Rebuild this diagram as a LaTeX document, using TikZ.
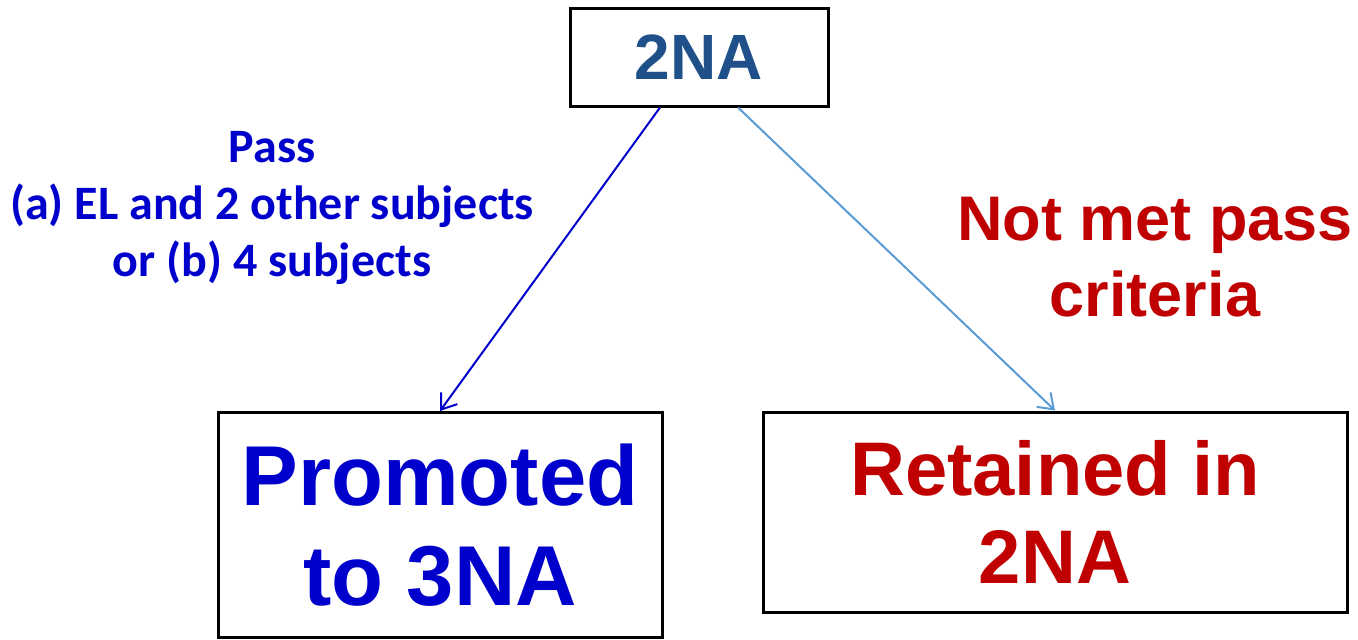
\documentclass[tikz,border=0pt]{standalone}
\usepackage{fontspec}
\setmainfont{Liberation Sans}
\newfontfamily\calibriFont{Carlito}
\usetikzlibrary{arrows.meta}
\definecolor{topColor}{RGB}{31,80,138}
\definecolor{passColor}{RGB}{0,0,204}
\definecolor{failColor}{RGB}{192,0,0}
\definecolor{failArrowColor}{RGB}{91,155,213}
\tikzstyle{flowchart} = [x = 1pt, y = -1pt]
\tikzstyle{gradeBox} = [draw=black, line width=3pt, fill=white, align=center, inner sep=0pt]
\tikzstyle{ruleText} = [align=center, inner sep=0pt]
\tikzstyle{decision} = [line width=2pt, -{Straight Barb[length=14pt, width=20pt, line width=2pt]}]
\newcommand{\bigFont}[2]{\fontsize{#1}{#2}\selectfont}

\begin{document}
\begin{tikzpicture}[flowchart]
  \useasboundingbox (0,0) rectangle (1358,640);
  % boxes
  \node [gradeBox, minimum width=258pt, minimum height=98pt, text=topColor, font=\bfseries\bigFont{64}{74}] (current) at (699,57) {2NA};
  \node [gradeBox, minimum width=444pt, minimum height=225pt, text=passColor, font=\bfseries\bigFont{85}{100}] (promoted) at (440,525) {Promoted\\to 3NA};
  \node [gradeBox, minimum width=584pt, minimum height=200pt, text=failColor, font=\bfseries\bigFont{76}{88}] (retained) at (1055,512) {Retained in\\2NA};
  % conditions
  \node [ruleText, text=passColor, font=\calibriFont\bfseries\bigFont{48}{57}] (passRule) at (272,208) {Pass\\(a) EL and 2 other subjects\\or (b) 4 subjects};
  \node [ruleText, text=failColor, font=\bfseries\bigFont{63}{76}] (failRule) at (1155,257) {Not met pass\\criteria};
  % arrows
  \coordinate (passStart) at ([xshift=-39pt]current.south);
  \coordinate (failStart) at ([xshift=39pt]current.south);
  \draw [decision, color=passColor] (passStart) -- (promoted.north);
  \draw [decision, color=failArrowColor] (failStart) -- (retained.north);
\end{tikzpicture}
\end{document}
